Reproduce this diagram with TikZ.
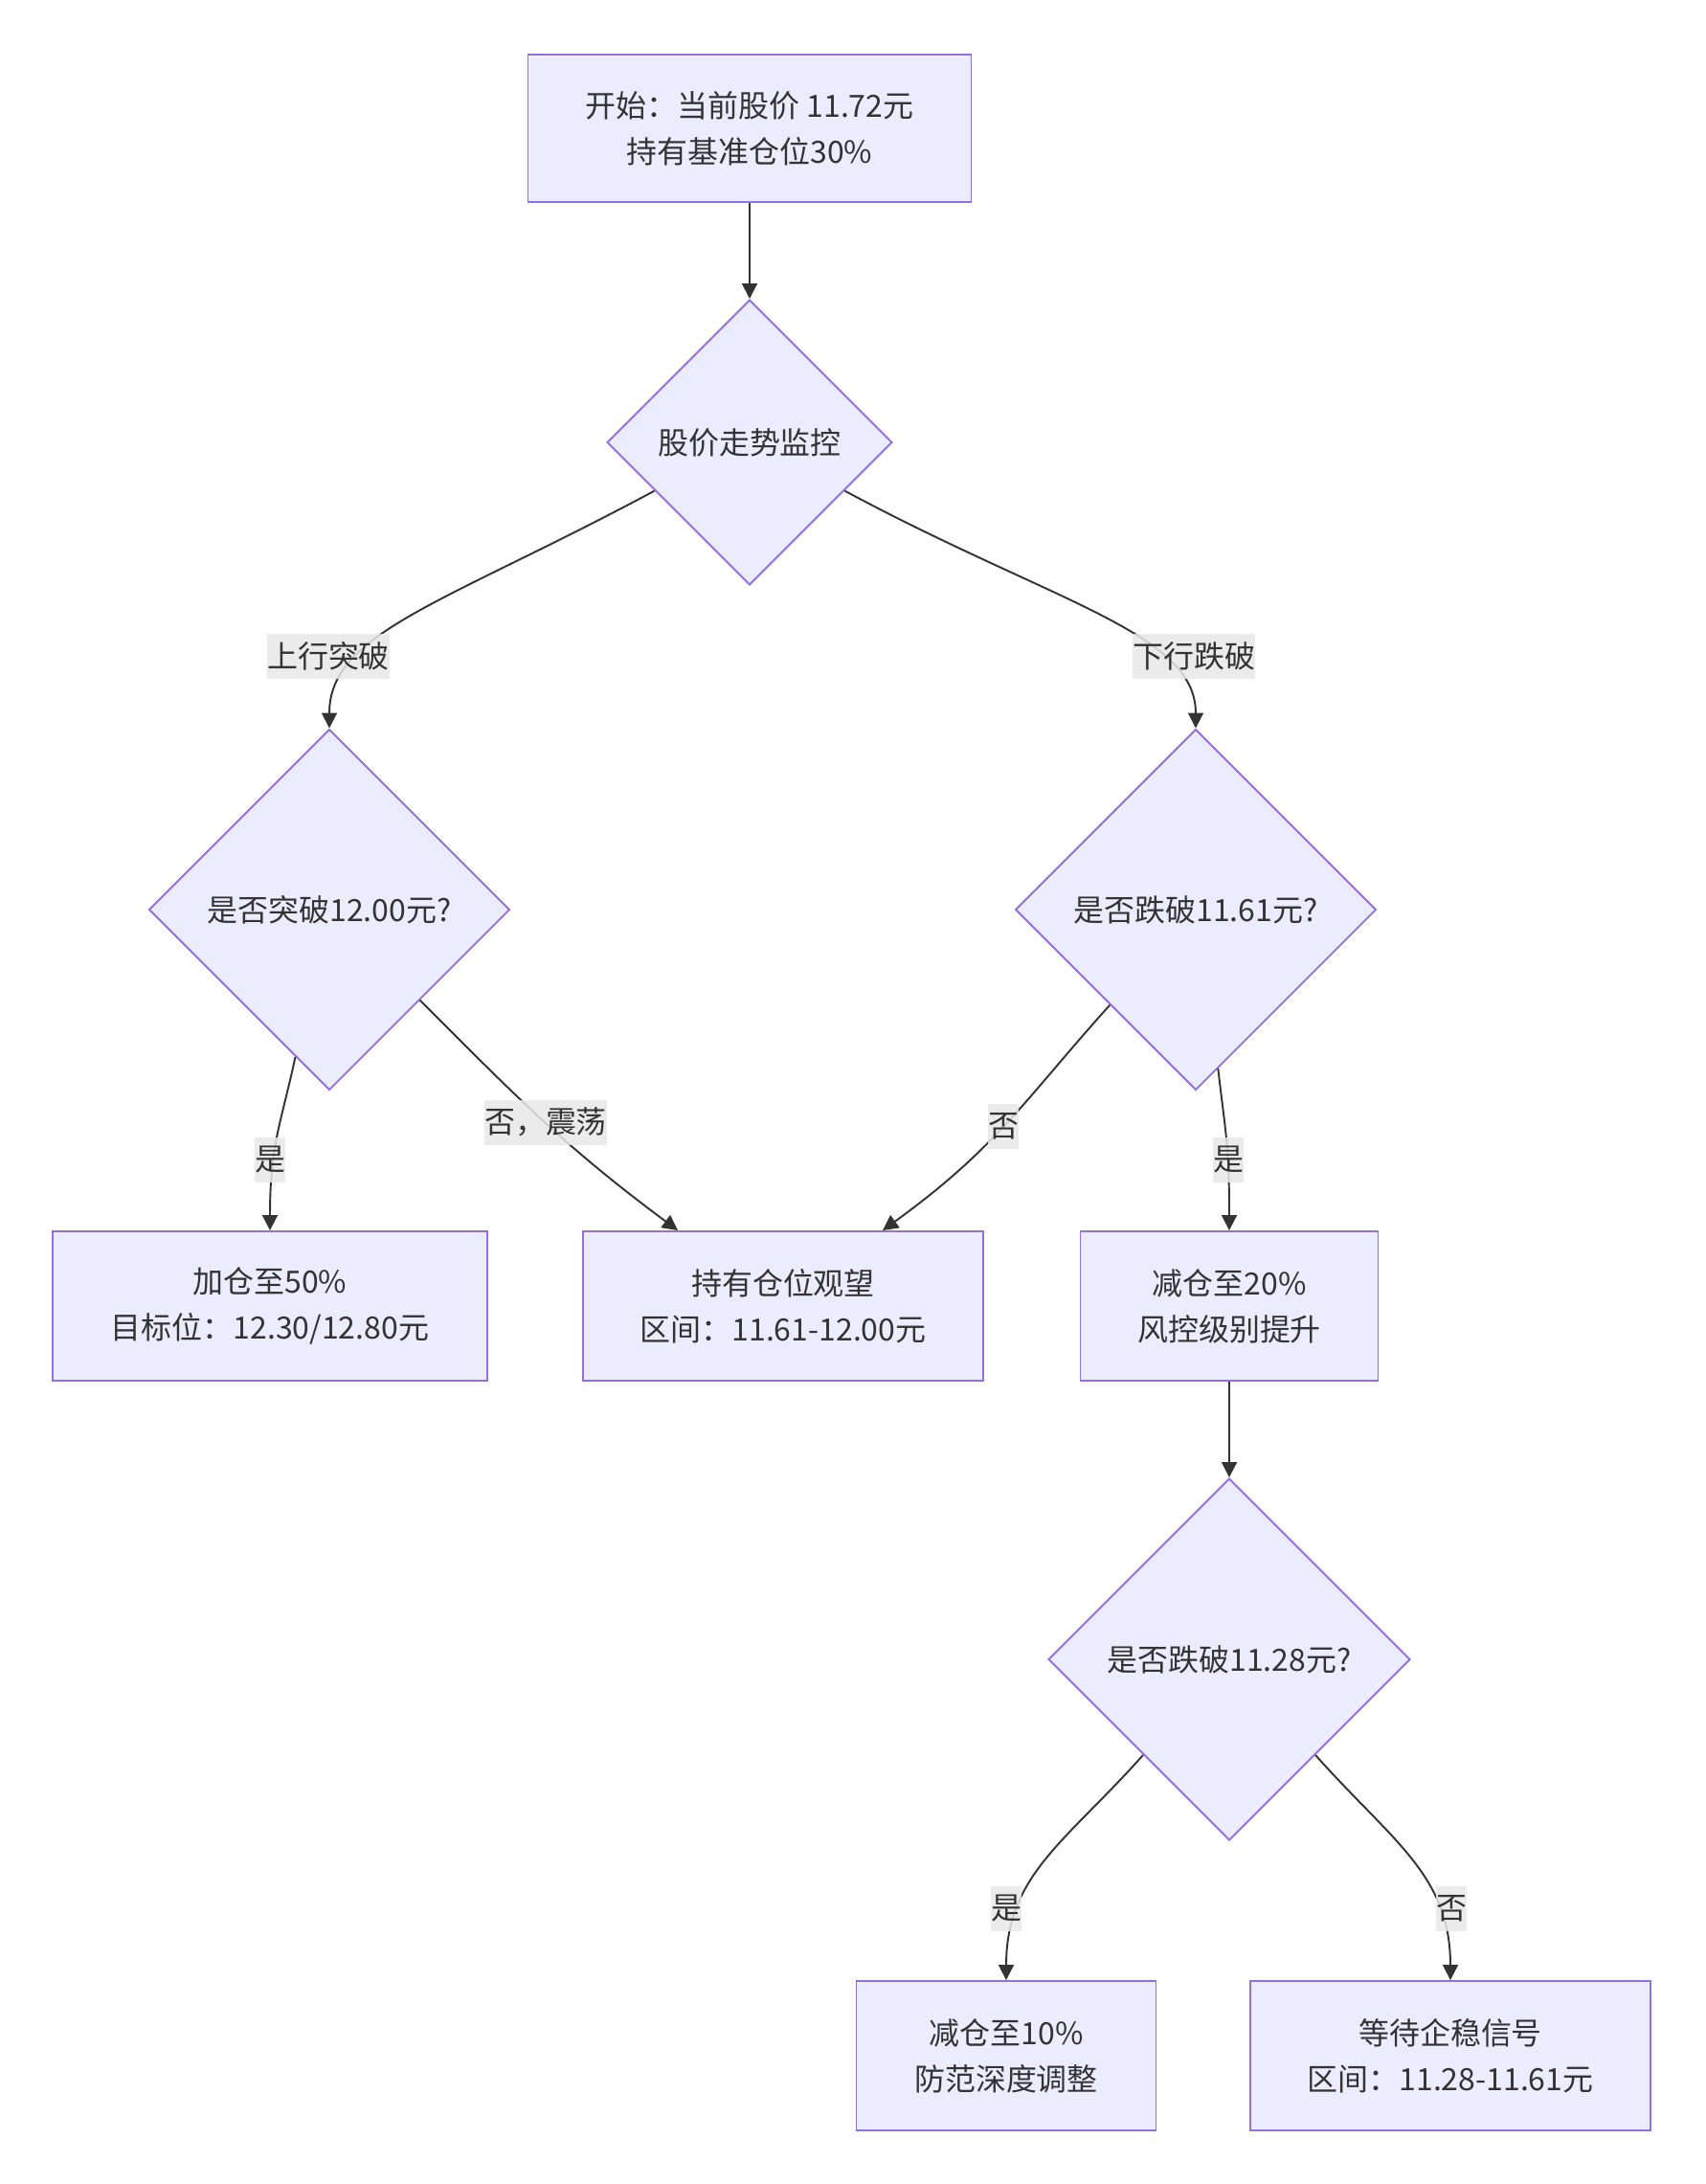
\documentclass[tikz,border=0pt]{standalone}
\usepackage{fontspec}
\usepackage{tikz}
\usetikzlibrary{shapes.geometric, arrows.meta, positioning, calc}
\newfontfamily\cjk{Noto Sans CJK SC}
\definecolor{nodefill}{HTML}{ECECFF}
\definecolor{nodeborder}{HTML}{9370DB}
\definecolor{linecolor}{HTML}{333333}
\definecolor{textgray}{HTML}{333333}
\definecolor{labelgray}{HTML}{E8E8E8}

\begin{document}
\begin{tikzpicture}[
    stepbox/.style={draw=nodeborder, fill=nodefill, line width=0.55pt, inner sep=0pt, align=center, text=textgray, font=\cjk\fontsize{9.1pt}{13.6pt}\selectfont},
    decision/.style={diamond, aspect=1, draw=nodeborder, fill=nodefill, line width=0.55pt, inner sep=0pt, align=center, text=textgray, font=\cjk\fontsize{9.1pt}{13.6pt}\selectfont},
    elabel/.style={fill=labelgray, fill opacity=0.85, text opacity=1, inner xsep=0pt, inner ysep=0pt, minimum height=0.47cm, text=textgray, font=\cjk\fontsize{9.1pt}{13.6pt}\selectfont},
    flow/.style={-{Triangle[length=0.16cm, width=0.16cm]}, line width=0.55pt, linecolor}
]
    \useasboundingbox (0,0) rectangle (17.81,-22.81);

    % start and first check
    \node[stepbox, minimum width=4.63cm, minimum height=1.54cm] (start) at (7.83,-1.34) {开始：当前股价 11.72元\\持有基准仓位30\%};
    \node[decision, minimum width=2.98cm, minimum height=2.98cm] (monitor) at (7.83,-4.62) {股价走势监控};

    % two branches
    \node[decision, minimum width=3.77cm, minimum height=3.77cm] (upchk) at (3.44,-9.50) {是否突破12.00元?};
    \node[decision, minimum width=3.77cm, minimum height=3.77cm] (downchk) at (12.49,-9.50) {是否跌破11.61元?};

    % actions
    \node[stepbox, minimum width=4.54cm, minimum height=1.56cm] (addpos) at (2.82,-13.64) {加仓至50\%\\目标位：12.30/12.80元};
    \node[stepbox, minimum width=4.18cm, minimum height=1.56cm] (hold) at (8.18,-13.64) {持有仓位观望\\区间：11.61-12.00元};
    \node[stepbox, minimum width=3.11cm, minimum height=1.56cm] (cut20) at (12.84,-13.64) {减仓至20\%\\风控级别提升};

    % deeper check
    \node[decision, minimum width=3.78cm, minimum height=3.78cm] (deepchk) at (12.84,-17.33) {是否跌破11.28元?};
    \node[stepbox, minimum width=3.13cm, minimum height=1.56cm] (cut10) at (10.51,-21.47) {减仓至10\%\\防范深度调整};
    \node[stepbox, minimum width=4.18cm, minimum height=1.56cm] (waitsig) at (15.15,-21.47) {等待企稳信号\\区间：11.28-11.61元};

    % connectors
    \draw[flow] (start) -- (monitor);
    \draw[flow] (monitor.207) .. controls +(-2.2,-1.18) and +(0,1.0) .. (upchk.north);
    \draw[flow] (monitor.-27) .. controls +(2.2,-1.18) and +(0,1.0) .. (downchk.north);
    \draw[flow] (upchk.257) .. controls +(-0.15,-0.7) and +(0,0.9) .. (addpos.north);
    \draw[flow] (upchk.315) .. controls +(1.0,-1.0) and +(-1.2,0.89) .. ($(hold.north west)+(1.0,0)$);
    \draw[flow] (downchk.228) .. controls +(-0.9,-1.0) and +(1.2,0.87) .. ($(hold.north east)+(-1.06,0)$);
    \draw[flow] (downchk.278) .. controls +(0.08,-0.7) and +(0,0.9) .. (cut20.north);
    \draw[flow] (cut20) -- (deepchk);
    \draw[flow] (deepchk.228) .. controls +(-0.8,-0.9) and +(0,1.1) .. (cut10.north);
    \draw[flow] (deepchk.312) .. controls +(0.8,-0.9) and +(0,1.1) .. (waitsig.north);

    % edge labels
    \node[elabel] (lblup) at (3.43,-6.85) {上行突破};
    \node[elabel] (lbldown) at (12.47,-6.85) {下行跌破};
    \node[elabel] (lblyesa) at (2.82,-12.11) {是};
    \node[elabel] (lblosc) at (5.70,-11.72) {否，震荡};
    \node[elabel] (lblnoa) at (10.48,-11.76) {否};
    \node[elabel] (lblyesb) at (12.83,-12.11) {是};
    \node[elabel] (lblyesc) at (10.51,-19.93) {是};
    \node[elabel] (lblnoc) at (15.16,-19.93) {否};
\end{tikzpicture}
\end{document}
